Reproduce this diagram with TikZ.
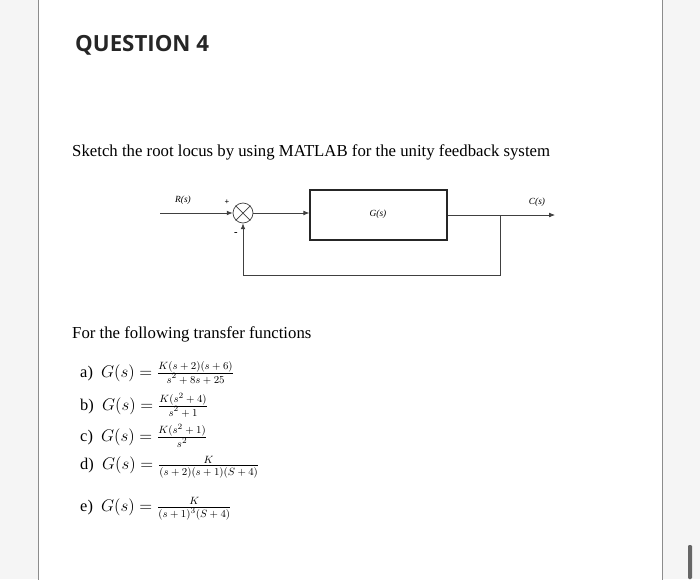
\documentclass[tikz,border=0pt]{standalone}
\usepackage{fontspec}
\setmainfont{Liberation Serif}
\newfontfamily\titlefont{Open Sans}
\usetikzlibrary{arrows.meta}
\newcommand{\kl}[1]{\mbox{\fontsize{9.5}{10}\selectfont$#1$}}
\begin{document}
\begin{tikzpicture}[x=0.03cm,y=-0.03cm,
    sig/.style={draw=black!75, line width=0.6pt},
    sigarrow/.style={sig, -{Latex[length=5pt,width=4pt]}},
    lbl/.style={font=\fontsize{8}{9}\selectfont\itshape, inner sep=0pt},
    eqn/.style={anchor=west, inner sep=0pt, font=\fontsize{14}{15}\selectfont}]
  %Hintergrund
  \useasboundingbox (0,0) rectangle (700,579);
  \fill[black!4] (0,0) rectangle (700,579);
  \fill[white, draw=black!45, line width=0.8pt] (38,-5) rectangle (662,590);
  \fill[black!60, rounded corners=1pt] (688,545) rectangle (692,579);

  %Texte
  \node[anchor=west, inner sep=0pt, text=black!85] (titel) at (75,45) {\titlefont\bfseries\fontsize{19}{22}\selectfont QUESTION 4};
  \node[anchor=west, inner sep=0pt] (aufgabe) at (72,152) {\fontsize{14.3}{16}\selectfont Sketch the root locus by using MATLAB for the unity feedback system};
  \node[anchor=west, inner sep=0pt] (liste) at (72,334) {\fontsize{14.3}{16}\selectfont For the following transfer functions};

  %Blockschaltbild
  \coordinate (eingang) at (160,213);
  \node[draw=black!75, line width=0.6pt, circle, minimum size=0.6cm, inner sep=0pt] (summe) at (243,213) {};
  \draw[sig] (summe.north west) -- (summe.south east) (summe.north east) -- (summe.south west);
  \node[draw=black!85, line width=1.2pt, minimum width=137*0.03cm, minimum height=50*0.03cm] (strecke) at (378.5,215) {};
  \node[lbl] (gs) at (378,214) {G(s)};
  \coordinate (ausgang) at (555,215);
  \coordinate (zweig) at (500,215);
  \coordinate (unten) at (500,275);
  \coordinate (links) at (243,275);
  \draw[sigarrow] (eingang) -- (summe.west);
  \draw[sigarrow] (summe.east) -- (strecke.west |- summe.east);
  \draw[sigarrow] (strecke.east) -- (ausgang);
  \draw[sigarrow] (zweig) -- (unten) -- (links) -- (summe.south);
  \node[lbl] (rs) at (183,200) {R(s)};
  \node[lbl] (cs) at (537,202) {C(s)};
  \node[inner sep=0pt, font=\scriptsize\bfseries] (plus) at (227,202) {+};
  \node[inner sep=0pt, font=\small\bfseries] (minus) at (236,234) {-};

  %Uebertragungsfunktionen
  \node[eqn] (fa) at (80,373) {a)~~$G(s)=\frac{\kl{K(s+2)(s+6)}}{\kl{s^2+8s+25}}$};
  \node[eqn] (fb) at (80,405) {b)~~$G(s)=\frac{\kl{K(s^2+4)}}{\kl{s^2+1}}$};
  \node[eqn] (fc) at (80,436) {c)~~$G(s)=\frac{\kl{K(s^2+1)}}{\kl{s^2}}$};
  \node[eqn] (fd) at (80,467) {d)~~$G(s)=\frac{\kl{K}}{\kl{(s+2)(s+1)(S+4)}}$};
  \node[eqn] (fe) at (80,509) {e)~~$G(s)=\frac{\kl{K}}{\kl{(s+1)^3(S+4)}}$};
\end{tikzpicture}
\end{document}
